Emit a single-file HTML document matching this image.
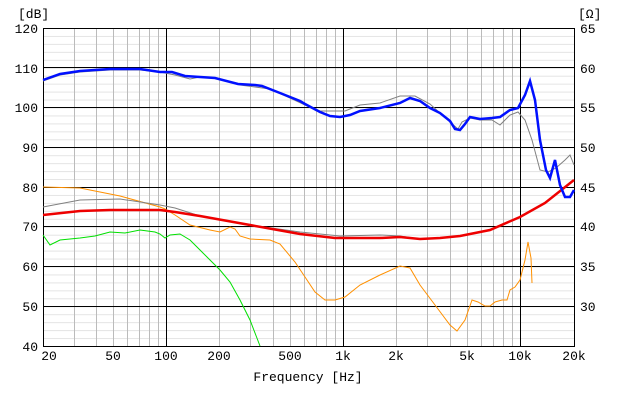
<!DOCTYPE html><html><head><style>body{margin:0;background:#fff}svg{display:block}text{font-family:"Liberation Mono",monospace;font-size:13px;fill:#000}</style></head><body>
<svg width="620" height="400" xmlns="http://www.w3.org/2000/svg">
<defs><pattern id="mh" patternUnits="userSpaceOnUse" x="0" y="28" width="620" height="7.95"><line x1="0" x2="620" y1="0.5" y2="0.5" stroke="#e4e4e4"/></pattern></defs>
<rect x="43" y="28" width="531" height="318" fill="url(#mh)"/>
<g stroke="#bbb">
<line x1="74.5" x2="74.5" y1="28" y2="346"/><line x1="96.5" x2="96.5" y1="28" y2="346"/><line x1="113.5" x2="113.5" y1="28" y2="346"/><line x1="127.5" x2="127.5" y1="28" y2="346"/><line x1="139.5" x2="139.5" y1="28" y2="346"/><line x1="149.5" x2="149.5" y1="28" y2="346"/><line x1="158.5" x2="158.5" y1="28" y2="346"/>
<line x1="219.5" x2="219.5" y1="28" y2="346"/><line x1="250.5" x2="250.5" y1="28" y2="346"/><line x1="273.5" x2="273.5" y1="28" y2="346"/><line x1="290.5" x2="290.5" y1="28" y2="346"/><line x1="304.5" x2="304.5" y1="28" y2="346"/><line x1="316.5" x2="316.5" y1="28" y2="346"/><line x1="326.5" x2="326.5" y1="28" y2="346"/><line x1="335.5" x2="335.5" y1="28" y2="346"/>
<line x1="396.5" x2="396.5" y1="28" y2="346"/><line x1="427.5" x2="427.5" y1="28" y2="346"/><line x1="450.5" x2="450.5" y1="28" y2="346"/><line x1="467.5" x2="467.5" y1="28" y2="346"/><line x1="481.5" x2="481.5" y1="28" y2="346"/><line x1="493.5" x2="493.5" y1="28" y2="346"/><line x1="503.5" x2="503.5" y1="28" y2="346"/><line x1="512.5" x2="512.5" y1="28" y2="346"/>
</g>
<g stroke="#000">
<line x1="166.5" x2="166.5" y1="28" y2="346"/><line x1="343.5" x2="343.5" y1="28" y2="346"/><line x1="520.5" x2="520.5" y1="28" y2="346"/>
<line x1="43" x2="574" y1="306.5" y2="306.5"/><line x1="43" x2="574" y1="266.5" y2="266.5"/><line x1="43" x2="574" y1="226.5" y2="226.5"/><line x1="43" x2="574" y1="187.5" y2="187.5"/><line x1="43" x2="574" y1="147.5" y2="147.5"/><line x1="43" x2="574" y1="107.5" y2="107.5"/><line x1="43" x2="574" y1="67.5" y2="67.5"/>
<rect x="43.5" y="28.5" width="531" height="318" fill="none"/>
</g>
<g text-anchor="end">
<text x="38" y="33">120</text><text x="38" y="73">110</text><text x="38" y="112">100</text><text x="38" y="152">90</text><text x="38" y="192">80</text><text x="38" y="231">70</text><text x="38" y="271">60</text><text x="38" y="311">50</text><text x="38" y="351">40</text>
</g>
<g>
<text x="580" y="33">65</text><text x="580" y="73">60</text><text x="580" y="112">55</text><text x="580" y="152">50</text><text x="580" y="192">45</text><text x="580" y="231">40</text><text x="580" y="271">35</text><text x="580" y="311">30</text>
</g>
<g text-anchor="middle">
<text x="49" y="360">20</text><text x="113" y="360">50</text><text x="166" y="360">100</text><text x="219" y="360">200</text><text x="290" y="360">500</text><text x="343" y="360">1k</text><text x="396" y="360">2k</text><text x="467" y="360">5k</text><text x="520" y="360">10k</text><text x="574" y="360">20k</text>
</g>
<text x="18" y="18">[dB]</text><text x="578" y="18">[Ω]</text>
<text x="308" y="381" text-anchor="middle">Frequency [Hz]</text>
<polyline fill="none" stroke="#00e000" stroke-width="1" points="43,235 50,245 60,240 80,238 95,236 110,232 125,233 140,230 155,232 160,234 165,238 170,235 180,234 190,240 200,250 210,260 220,270 230,282 240,300 250,320 260,346"/>
<polyline fill="none" stroke="#ff9000" stroke-width="1" points="43,187 80,188 120,196 160,207 165,209 175,215 190,225 210,230 220,232 230,227 235,229 240,236 250,239 270,240 280,244 295,262 305,277 315,292 325,300 335,300 345,297 360,285 380,275 400,266 410,268 420,285 435,305 450,325 457,331 465,320 472,300 478,302 485,306 490,306 495,302 502,300 507,300 510,290 515,287 520,280 525,260 528,242 531,258 532,283"/>
<polyline fill="none" stroke="#808080" stroke-width="1" points="43,207 80,200 120,199 160,205 175,208 200,216 250,225 300,232 340,236 380,235 400,236 420,239 440,238 460,236"/>
<polyline fill="none" stroke="#808080" stroke-width="1" points="43,81 60,75 80,72 110,70 140,70 160,72 175,75 190,79 200,77 215,78 240,85 270,89 290,98 305,105 320,111 345,111 360,105 380,103 400,96 415,96 430,104 450,122 458,129 462,122 470,118 480,120 492,120 500,125 510,115 518,112 525,120 532,140 540,170 548,172 556,168 565,160 570,155 574,165"/>
<polyline fill="none" stroke="#ee0000" stroke-width="2.5" points="43,215 80,211 110,210 160,210 175,212 200,216 250,225 300,234 335,238 380,238 400,237 420,239 440,238 460,236 490,230 520,217 545,203 574,180"/>
<polyline fill="none" stroke="#0010ff" stroke-width="2.5" points="43,80 60,74 80,71 110,69 140,69 160,72 172,72 185,76 200,77 215,78 238,84 255,85 262,86 280,93 300,101 305,104 320,112 330,116 340,117 350,115 360,111 380,108 400,103 410,98 420,101 430,108 440,113 450,121 455,129 460,130 465,124 470,117 480,119 492,118 500,117 510,110 518,108 525,95 530,81 535,100 540,140 546,170 550,178 555,160 560,185 565,197 570,197 574,190"/>
</svg></body></html>
